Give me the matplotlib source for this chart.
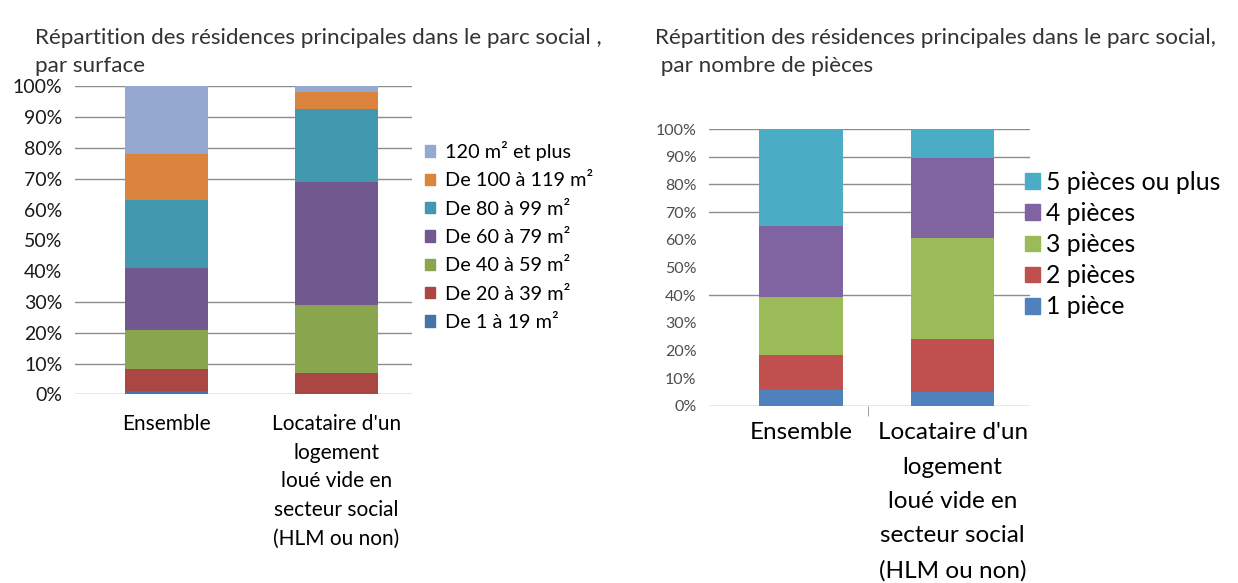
import numpy as np
import matplotlib.pyplot as plt
from matplotlib.patches import Patch

plt.rcParams['font.family'] = ['Lato', 'DejaVu Sans']

# Data (percentages)
categories = ['Ensemble', "Locataire d'un\nlogement\nloué vide en\nsecteur social\n(HLM ou non)"]

surf_labels = ['De 1 à 19 m²', 'De 20 à 39 m²', 'De 40 à 59 m²', 'De 60 à 79 m²',
               'De 80 à 99 m²', 'De 100 à 119 m²', '120 m² et plus']
surf_ensemble = [1.2, 7.0, 12.7, 20.2, 22.1, 14.7, 22.1]
surf_locataire = [0.2, 6.8, 22.0, 39.8, 23.8, 5.5, 1.9]
surf_colors = ['#4572A7', '#AA4643', '#89A54E', '#71588F', '#4198AF', '#DB843D', '#95A9D0']

pieces_labels = ['1 pièce', '2 pièces', '3 pièces', '4 pièces', '5 pièces ou plus']
pieces_ensemble = [5.7, 12.6, 20.9, 25.7, 35.1]
pieces_locataire = [5.1, 18.9, 36.5, 29.1, 10.4]
pieces_colors = ['#4F81BD', '#C0504D', '#9BBB59', '#8064A2', '#4BACC6']

y_ticks = np.arange(0, 101, 10)
grid_left = [0, 10, 20, 30, 70, 80, 90, 100]
grid_right = [0, 40, 70, 80, 90, 100]

fig = plt.figure(figsize=(12.38, 5.83), dpi=100)
ax1 = fig.add_axes([0.0606, 0.3237, 0.272, 0.528])
ax2 = fig.add_axes([0.5727, 0.304, 0.259, 0.4746])


def stacked(ax, vals_a, vals_b, colors, width):
    bottom = np.zeros(2)
    for a, b, c in zip(vals_a, vals_b, colors):
        v = np.array([a, b])
        ax.bar([0, 1], v, bottom=bottom, width=width, color=c, zorder=2)
        bottom += v


def style(ax, grid, xlim, fs, col, pad):
    ax.set_ylim(0, 100)
    ax.set_xlim(*xlim)
    for g in grid:
        ax.axhline(g, color='#8c8c8c', lw=1, zorder=1)
    for s in ax.spines.values():
        s.set_visible(False)
    ax.set_yticks(y_ticks, labels=[f'{t}%' for t in y_ticks])
    ax.tick_params(axis='y', length=0, pad=pad, labelsize=fs, labelcolor=col)


# Left chart: by surface
stacked(ax1, surf_ensemble, surf_locataire, surf_colors, 0.49)
style(ax1, grid_left, (-0.538, 1.444), 14, '#1a1a1a', 9)
ax1.set_xticks([0, 1], labels=categories, fontsize=15, linespacing=1.55, va='top')
ax1.tick_params(axis='x', length=0, pad=14)

# Right chart: by number of rooms
stacked(ax2, pieces_ensemble, pieces_locataire, pieces_colors, 0.55)
style(ax2, grid_right, (-0.605, 1.507), 11.5, '#4d4d4d', 9)
ax2.set_xticks([0, 1], labels=categories, fontsize=17.5, linespacing=1.78, va='top')
ax2.tick_params(axis='x', length=0, pad=12)
ax2.set_xticks([0.44], minor=True)
ax2.tick_params(axis='x', which='minor', length=7, color='#8c8c8c', direction='out')

# Legends
h1 = [Patch(color=c, label=l) for c, l in zip(surf_colors, surf_labels)][::-1]
fig.legend(handles=h1, loc='upper left', bbox_to_anchor=(0.343, 0.758), frameon=False,
           fontsize=14.3, handlelength=0.52, handleheight=0.52, handletextpad=0.5,
           labelspacing=0.57, borderpad=0, borderaxespad=0)

h2 = [Patch(color=c, label=l) for c, l in zip(pieces_colors, pieces_labels)][::-1]
fig.legend(handles=h2, loc='upper left', bbox_to_anchor=(0.828, 0.707), frameon=False,
           fontsize=17.8, handlelength=0.6, handleheight=0.6, handletextpad=0.25,
           labelspacing=0.33, borderpad=0, borderaxespad=0)

# Titles
fig.text(0.028, 0.952, 'Répartition des résidences principales dans le parc social ,\npar surface',
         fontsize=16.2, color='#333333', va='top', linespacing=1.5)
fig.text(0.529, 0.952, 'Répartition des résidences principales dans le parc social,\n par nombre de pièces',
         fontsize=16.2, color='#333333', va='top', linespacing=1.5)

fig.savefig('out.png', dpi=100)
